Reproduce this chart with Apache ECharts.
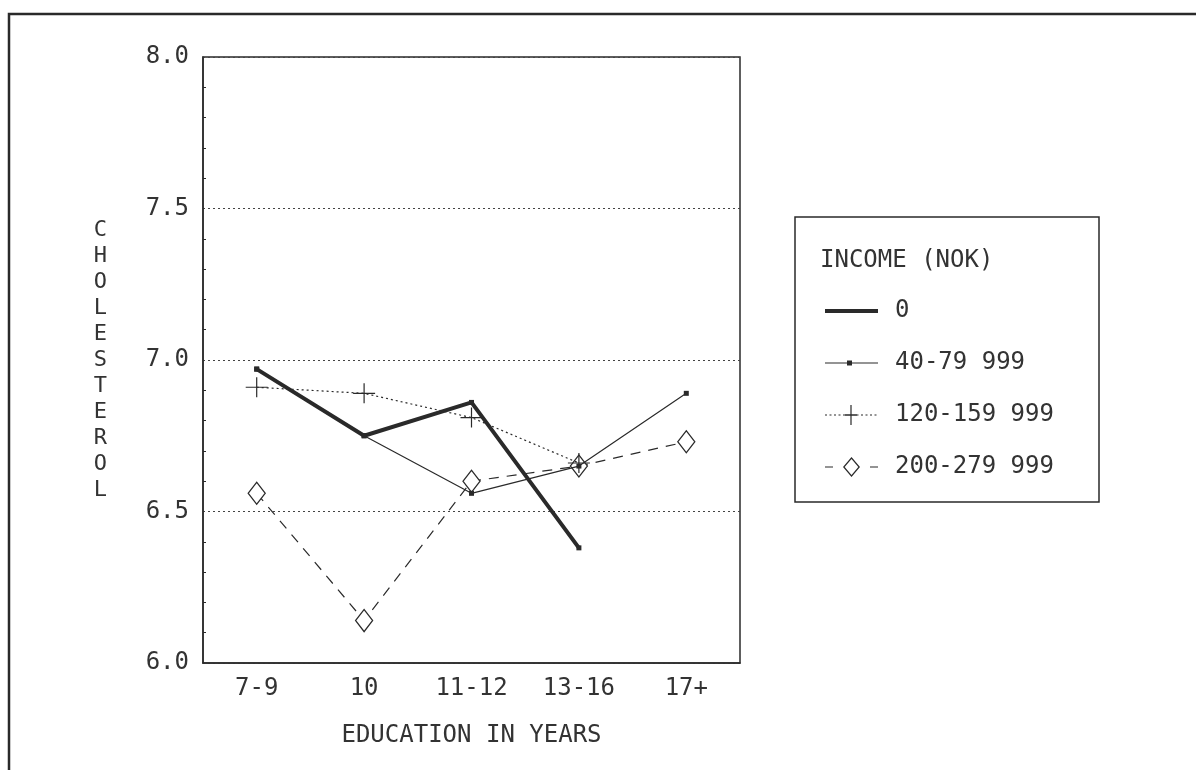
<!DOCTYPE html>
<html lang="en">

<head>
  <script src="https://cdn.jsdelivr.net/npm/echarts@6.0.0/dist/echarts.min.js"></script>
  <meta charset="UTF-8">
</head>

<body style="margin:0;background:#fff;">
  <div id="cholesterolChart" style="width: 1196px;height:770px;"></div>

  <script type="text/javascript">

    var education = ['7-9', '10', '11-12', '13-16', '17+']
    var income0 = [6.97, 6.75, 6.86, 6.38, null]
    var income40 = [6.97, 6.75, 6.56, 6.65, 6.89]
    var income120 = [6.91, 6.89, 6.81, 6.66, null]
    var income200 = [6.56, 6.14, 6.60, 6.65, 6.73]
    var yTicks = [6.0, 6.5, 7.0, 7.5, 8.0]

    var ink = '#2a2a2a'
    var font = '"DejaVu Sans Mono", "Liberation Mono", monospace'

    // legend icons drawn in a 53x20 box; the two zero-length moves pin the box
    var box = 'M0,0L0,0M53,20L53,20'
    function dots(from, to, on, off) {
        var p = '';
        for (var x = from; x < to; x += on + off) {
            var w = Math.min(on, to - x);
            p += 'M' + x + ',9.4H' + (x + w) + 'V10.6H' + x + 'Z';
        }
        return p;
    }
    var iconThick = 'path://' + box + 'M0,8H53V12H0Z';
    var iconSquare = 'path://' + box + 'M0,9.4H53V10.6H0Z M22,7.5H27V12.5H22Z';
    var iconPlus = 'path://' + box + dots(0, 53, 2, 2.5) + 'M25.4,0H26.6V20H25.4Z M20,9.2H32V10.8H20Z';
    var iconDiamond = 'path://' + box + 'M0,9.4H8V10.6H0Z M45,9.4H53V10.6H45Z' +
        'M26.5,0L35,10L26.5,20L18,10Z M26.5,2L19.7,10L26.5,18L33.3,10Z';

    function createCholesterolChart() {
        const chart = echarts.init(document.getElementById('cholesterolChart'));

        const plus = 'path://M0,9.4H22V10.6H0Z M10.4,0H11.6V20H10.4Z';
        const iconStyle = { color: ink, borderWidth: 0 };

        const option = {
            backgroundColor: '#fff',
            animation: false,
            grid: {
                left: 203,
                top: 57,
                width: 537,
                height: 606,
                show: true,
                borderColor: ink,
                borderWidth: 1.5
            },
            legend: {
                orient: 'vertical',
                left: 820,
                top: 294,
                itemWidth: 53,
                itemHeight: 20,
                itemGap: 28,
                textStyle: {
                    fontFamily: font,
                    fontSize: 24,
                    lineHeight: 20,
                    color: '#333',
                    padding: [0, 0, 0, 12]
                },
                data: [
                    { name: '0', icon: iconThick, itemStyle: iconStyle },
                    { name: '40-79 999', icon: iconSquare, itemStyle: iconStyle },
                    { name: '120-159 999', icon: iconPlus, itemStyle: iconStyle },
                    { name: '200-279 999', icon: iconDiamond, itemStyle: iconStyle }
                ]
            },
            xAxis: {
                type: 'category',
                data: education,
                boundaryGap: true,
                name: 'EDUCATION IN YEARS',
                nameLocation: 'middle',
                nameGap: 61,
                nameTextStyle: { fontFamily: font, fontSize: 24, color: '#333' },
                axisLine: { lineStyle: { color: ink, width: 1.5 } },
                axisTick: { inside: true, alignWithLabel: true, length: 8, lineStyle: { color: ink } },
                axisLabel: { fontFamily: font, fontSize: 24, color: '#333', margin: 14 }
            },
            yAxis: {
                type: 'value',
                min: yTicks[0],
                max: yTicks[yTicks.length - 1],
                interval: 0.5,
                name: 'CHOLESTEROL'.split('').join('\n'),
                nameLocation: 'middle',
                nameRotate: 0,
                nameGap: 96,
                nameTextStyle: { fontFamily: font, fontSize: 22, color: '#333', lineHeight: 26 },
                axisLine: { show: true, lineStyle: { color: ink, width: 1.5 } },
                axisTick: { inside: true, length: 6, lineStyle: { color: ink } },
                minorTick: { show: true, splitNumber: 5, length: 3, lineStyle: { color: ink } },
                splitLine: { show: true, lineStyle: { color: '#444', type: [2, 3], width: 1 } },
                axisLabel: {
                    fontFamily: font, fontSize: 24, color: '#333', margin: 14,
                    formatter: function (v) { return v.toFixed(1); }
                }
            },
            graphic: [
                {
                    type: 'rect',
                    shape: { x: 9, y: 14, width: 1400, height: 900 },
                    style: { fill: 'none', stroke: ink, lineWidth: 2.5 }
                },
                {
                    type: 'rect',
                    shape: { x: 795, y: 217, width: 304, height: 285 },
                    style: { fill: 'none', stroke: ink, lineWidth: 1.5 }
                },
                {
                    type: 'text',
                    left: 820,
                    top: 249,
                    style: { text: 'INCOME (NOK)', font: '24px ' + font, fill: '#333' }
                }
            ],
            series: [
                {
                    name: '0',
                    type: 'line',
                    data: income0,
                    symbol: 'rect',
                    symbolSize: 5,
                    itemStyle: { color: ink },
                    lineStyle: { color: ink, width: 4 },
                    z: 3
                },
                {
                    name: '40-79 999',
                    type: 'line',
                    data: income40,
                    symbol: 'rect',
                    symbolSize: 5,
                    itemStyle: { color: ink },
                    lineStyle: { color: ink, width: 1.2 },
                    z: 4
                },
                {
                    name: '120-159 999',
                    type: 'line',
                    data: income120,
                    symbol: plus,
                    symbolSize: [22, 20],
                    itemStyle: { color: ink },
                    lineStyle: { color: ink, width: 1.2, type: [2, 3] },
                    z: 4
                },
                {
                    name: '200-279 999',
                    type: 'line',
                    data: income200,
                    symbol: 'diamond',
                    symbolSize: [17, 22],
                    itemStyle: { color: '#fff', borderColor: ink, borderWidth: 1.3 },
                    lineStyle: { color: ink, width: 1.2, type: [10, 8] },
                    z: 2
                }
            ]
        };

        chart.setOption(option);
    }
    createCholesterolChart();
  </script>
</body>

</html>
